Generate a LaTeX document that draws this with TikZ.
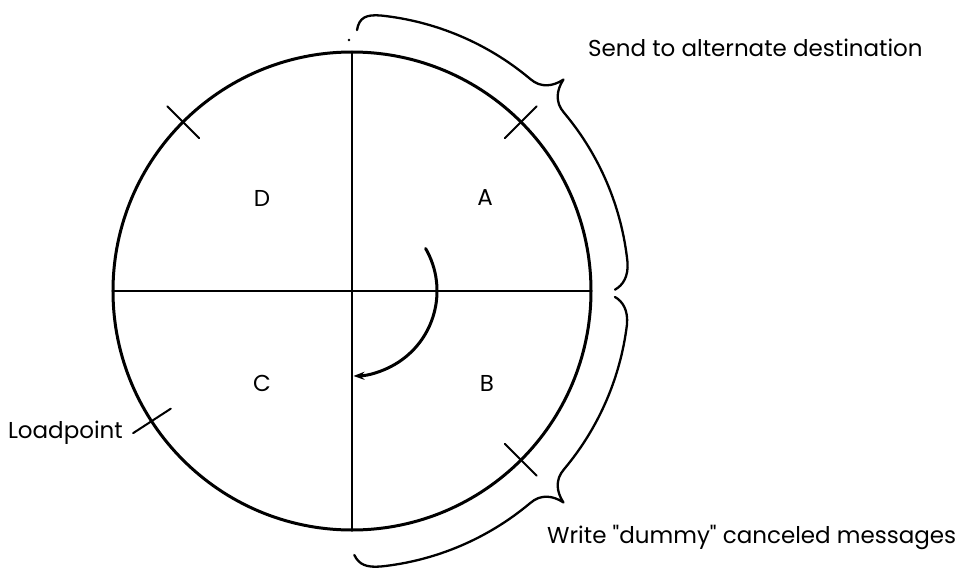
\documentclass[tikz,border=0pt]{standalone}
\usepackage{fontspec}
\setmainfont{Poppins}
\usetikzlibrary{arrows.meta}

\begin{document}
\begin{tikzpicture}[
  x=1pt,y=1pt,
  line cap=round,
  line join=round,
  rim/.style={line width=3pt},
  axis/.style={line width=2pt},
  tickmark/.style={line width=2pt},
  brace/.style={line width=2.3pt},
  turn/.style={line width=3pt,-{Stealth[length=11pt,width=8pt]}},
  sector/.style={inner sep=0pt,font=\fontsize{23}{27}\selectfont},
  note/.style={inner sep=0pt,font=\fontsize{23}{27}\selectfont}
]
\useasboundingbox (-352,-277) rectangle (622,291);

% Centre of the reel
\coordinate (O) at (0,0);
\coordinate (N) at (90:239pt);
\coordinate (S) at (-90:239pt);
\coordinate (W) at (180:239pt);
\coordinate (E) at (0:239pt);

\draw[rim] (O) circle[radius=239pt];
\draw[axis] (N) -- (S);
\draw[axis] (W) -- (E);

% Marks on the rim
\foreach \a in {45,135,-45,213}
  \draw[tickmark] (\a:216pt) -- (\a:261pt);

\fill (-3,251) circle[radius=1.3pt];

% Sector letters
\node[sector] (secD) at (-90,93) {D};
\node[sector] (secA) at (133,93) {A};
\node[sector] (secC) at (-90,-92) {C};
\node[sector] (secB) at (135,-92) {B};

% Direction of travel
\draw[turn] (30:85pt) arc[start angle=30,end angle=-89,radius=85pt];

% Upper brace
\draw[brace] (88.9:261pt) .. controls (88.5:274pt) and (87:277pt) .. (84:277pt)
  arc[start angle=84,end angle=50,radius=277pt]
  .. controls (47:277pt) and (45.5:287pt) .. (45:299pt)
  .. controls (44.5:287pt) and (43:277pt) .. (40:277pt)
  arc[start angle=40,end angle=6,radius=277pt]
  .. controls (3:277pt) and (1.2:271pt) .. (0.3:263pt);

% Lower brace
\draw[brace] (-1.3:263pt) .. controls (-2.2:271pt) and (-4:277pt) .. (-7:277pt)
  arc[start angle=-7,end angle=-40,radius=277pt]
  .. controls (-43:277pt) and (-44.5:287pt) .. (-45:299pt)
  .. controls (-45.5:287pt) and (-47:277pt) .. (-50:277pt)
  arc[start angle=-50,end angle=-84,radius=277pt]
  .. controls (-87:277pt) and (-88.5:274pt) .. (-89.5:264pt);

\node[note,anchor=west] (send) at (236,243) {Send to alternate destination};
\node[note,anchor=west] (dummy) at (195,-246) {Write \textquotedbl dummy\textquotedbl{} canceled messages};
\node[note,anchor=east] (load) at (-229,-142) {Loadpoint};

\end{tikzpicture}
\end{document}
